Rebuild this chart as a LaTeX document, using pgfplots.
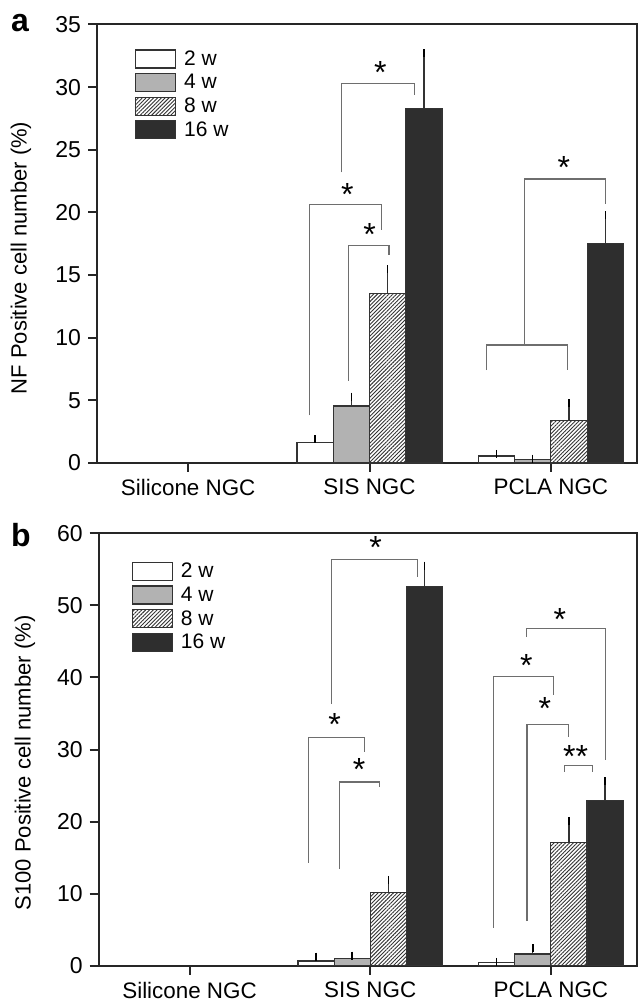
\documentclass[border=0pt]{standalone}
\usepackage{fontspec}
\setmainfont{Liberation Sans}
\usepackage{pgfplots}
\pgfplotsset{compat=1.18}
\usetikzlibrary{patterns.meta}

\definecolor{grayfill}{HTML}{B2B2B2}
\definecolor{darkfill}{HTML}{2E2E2E}
\definecolor{edge}{HTML}{333333}
\definecolor{brk}{HTML}{6E6E6E}

\pgfplotsset{
  panel/.style={
    scale only axis, width=270pt,
    anchor=south west, clip=false,
    ybar=0pt, bar width=0.2,
    xmin=-0.503, xmax=2.475, ymin=0,
    xtick={0,1,2}, xticklabels={Silicone NGC, SIS NGC, PCLA NGC},
    axis line style={line width=1pt, black!85},
    tick style={line width=1pt, black!85},
    xtick pos=bottom, ytick pos=left, tick align=outside,
    major tick length=4.5pt,
    /pgf/number format/assume math mode=true,
    yticklabel style={font=\fontsize{11.5}{13}\selectfont},
    xticklabel style={font=\fontsize{11.2}{13}\selectfont},
    ylabel style={font=\fontsize{11}{13}\selectfont, anchor=center},
    error bars/y dir=plus, error bars/y explicit,
    error bars/error bar style={line width=0.6pt, solid},
    error bars/error mark options={mark size=2pt, line width=0.7pt},
    legend style={draw=none, fill=none, font=\fontsize{10.5}{12}\selectfont,
      anchor=north west, inner sep=0pt, outer sep=0pt,
      nodes={inner sep=0pt}, row sep=2.2pt, column sep=4pt},
    legend cell align=left,
    legend image code/.code={\draw[#1, line width=0.6pt] (0pt,-4.2pt) rectangle (20pt,4.8pt);},
  },
  w2/.style={draw=edge, fill=white, line width=0.6pt},
  w4/.style={draw=edge, fill=grayfill, line width=0.6pt},
  w8/.style={draw=edge, line width=0.6pt, pattern={Lines[angle=45,distance=1.35pt,line width=0.45pt]}, pattern color=edge},
  w16/.style={draw=edge, fill=darkfill, line width=0.6pt},
}

\newcommand{\brk}[5]{% x1 yleft x2 ytop yright
  \draw[brk, line width=0.6pt] (axis cs:#1,#2) |- (axis cs:#3,#4) -- (axis cs:#3,#5);}
\newcommand{\st}[3]{\node[inner sep=0pt, yshift=-1.5pt, font=\fontsize{16}{18}\selectfont] at (axis cs:#1,#2) {#3};}

\begin{document}
\begin{tikzpicture}
\useasboundingbox (-48.5pt,-268.5pt) rectangle (271.5pt,231.5pt);

% panel a: NF
\begin{axis}[panel, at={(0pt,0pt)}, height=219.25pt,
  ymax=35, ytick={0,5,...,35},
  ylabel={NF Positive cell number (\%)},
  ylabel style={at={(axis description cs:-0.1407,0.4675)}},
  legend style={at={(axis description cs:0.0704,0.9434)}},
]
\addplot[w2] coordinates {(1,1.62) +- (0,0.28) (2,0.56) +- (0,0.16)};
\addplot[w4] coordinates {(1,4.55) +- (0,0.75) (2,0.30) +- (0,0.05)};
\addplot[w8] coordinates {(1,13.5) +- (0,1.95) (2,3.38) +- (0,1.38)};
\addplot[w16] coordinates {(1,28.3) +- (0,4.4) (2,17.5) +- (0,2.27)};
\legend{2 w, 4 w, 8 w, 16 w}
\brk{0.844}{23.2}{1.249}{30.3}{29.4}
\brk{0.668}{3.8}{1.068}{20.65}{18.6}
\brk{0.884}{6.55}{1.107}{17.35}{16.6}
\brk{1.856}{9.42}{2.302}{22.67}{20.67}
\brk{1.645}{7.42}{2.09}{9.42}{7.42}
\st{1.06}{31.4}{*}
\st{0.877}{21.7}{*}
\st{1.0}{18.5}{*}
\st{2.072}{23.8}{*}
\node[font=\fontsize{16}{18}\selectfont\bfseries, anchor=base, inner sep=0pt] at (axis description cs:-0.1426,0.983) {a};
\end{axis}

% panel b: S100
\begin{axis}[panel, at={(0.85pt,-251.35pt)}, width=269pt, height=216.2pt,
  ymax=60, ytick={0,10,...,60},
  ylabel={S100 Positive cell number (\%)},
  ylabel style={at={(axis description cs:-0.137,0.469)}},
  legend style={at={(axis description cs:0.0613,0.934)}},
]
\addplot[w2] coordinates {(1,0.65) +- (0,0.6) (2,0.42) +- (0,0.1)};
\addplot[w4] coordinates {(1,1.02) +- (0,0.38) (2,1.62) +- (0,0.8)};
\addplot[w8] coordinates {(1,10.2) +- (0,1.7) (2,17.1) +- (0,3.0)};
\addplot[w16] coordinates {(1,52.6) +- (0,2.9) (2,22.9) +- (0,2.7)};
\legend{2 w, 4 w, 8 w, 16 w}
\brk{0.785}{36.3}{1.263}{56.4}{53.9}
\brk{0.657}{14.3}{0.97}{31.7}{29.6}
\brk{0.828}{13.4}{1.053}{25.5}{24.8}
\brk{1.864}{45.6}{2.303}{46.8}{28.5}
\brk{1.683}{5.3}{2.013}{40.1}{37.6}
\brk{1.868}{6.2}{2.096}{33.5}{31.7}
\brk{2.074}{26.9}{2.231}{27.8}{26.9}
\st{1.03}{58.5}{*}
\st{0.803}{33.9}{*}
\st{0.939}{27.6}{*}
\st{2.05}{48.4}{*}
\st{1.864}{42.1}{*}
\st{1.967}{36.1}{*}
\st{2.137}{29.4}{**}
\node[font=\fontsize{16}{18}\selectfont\bfseries, anchor=base, inner sep=0pt] at (axis description cs:-0.1444,0.9706) {b};
\end{axis}
\end{tikzpicture}
\end{document}
